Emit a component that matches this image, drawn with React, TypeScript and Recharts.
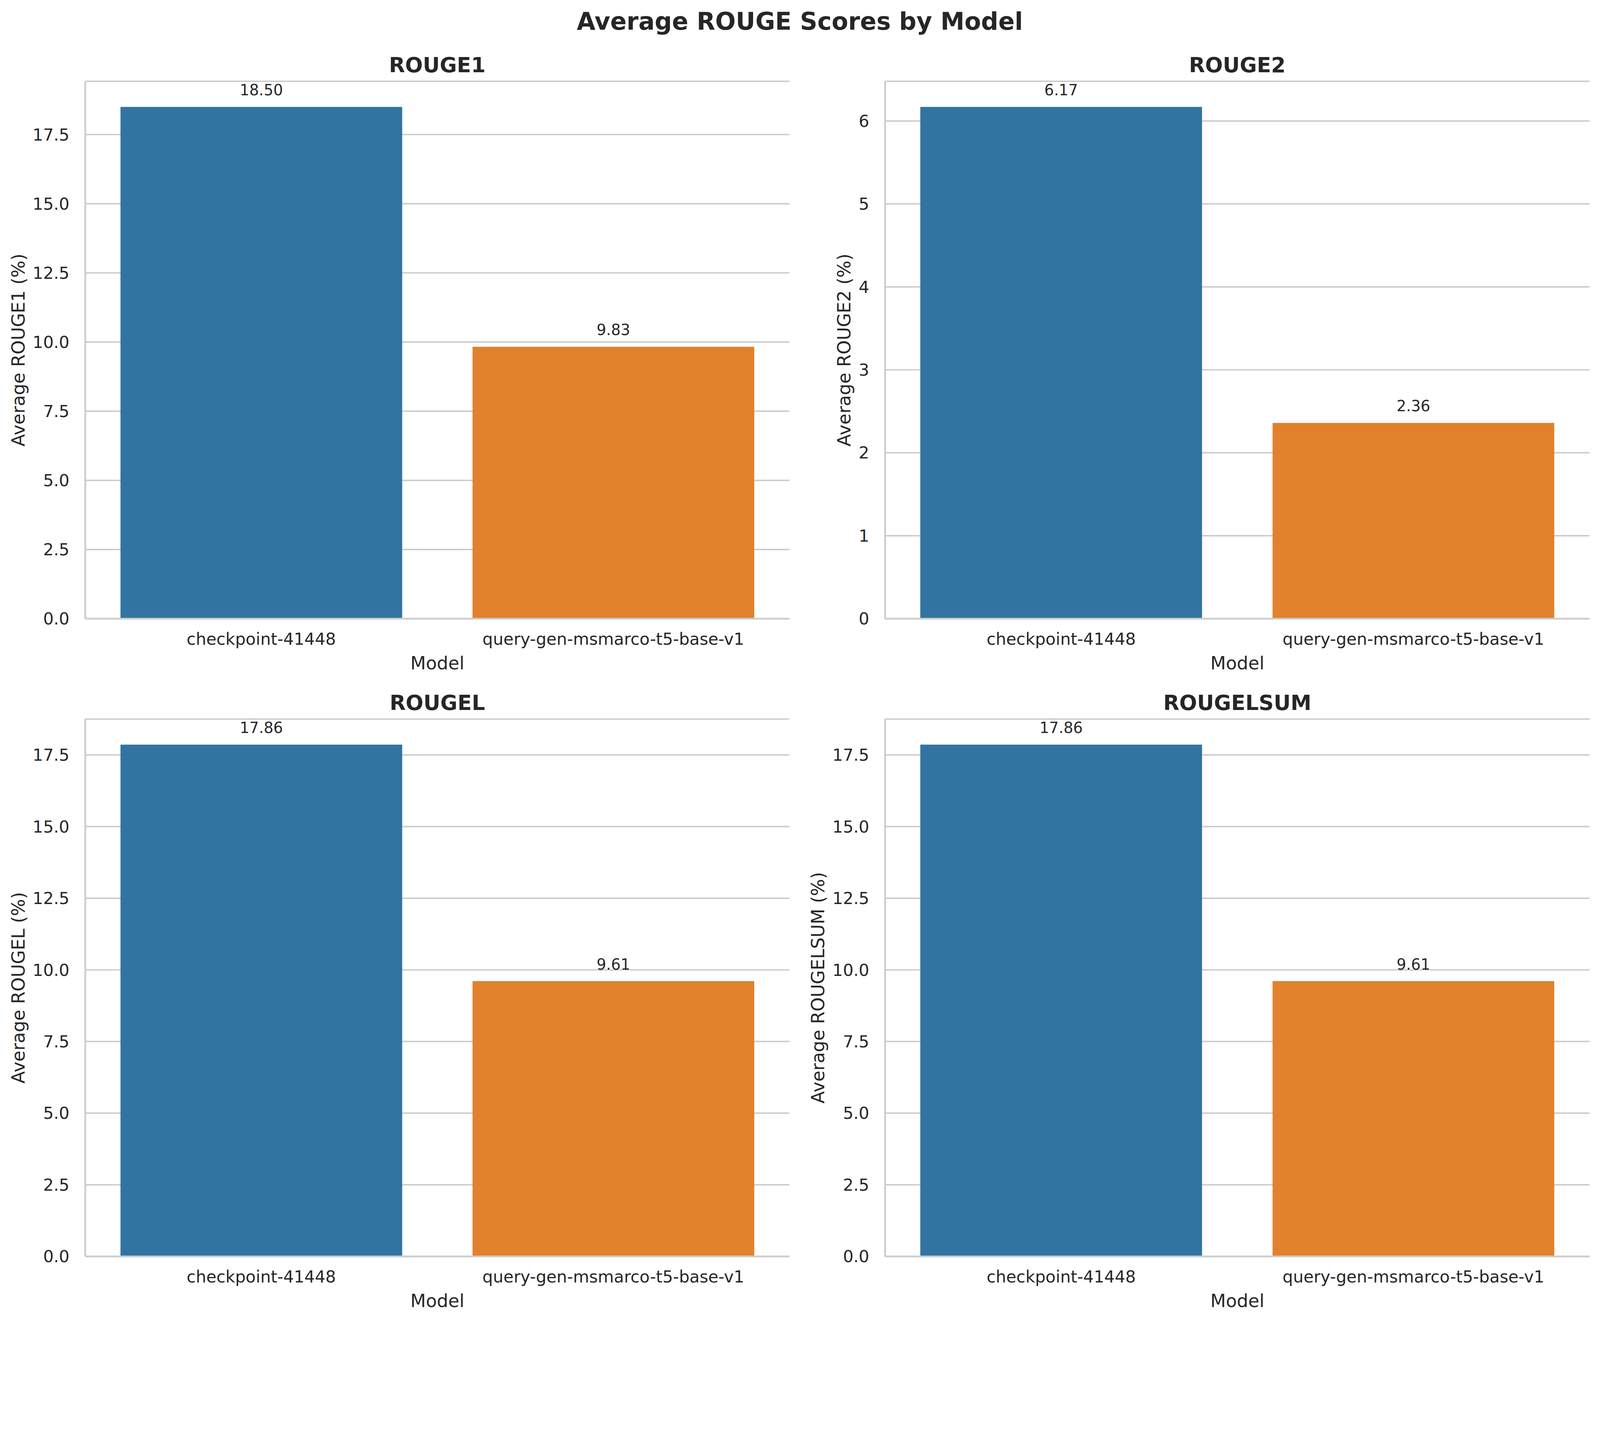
import React from "react";
import { Bar, BarChart, CartesianGrid, Cell, LabelList, XAxis, YAxis } from "recharts";

const models = ["checkpoint-41448", "query-gen-msmarco-t5-base-v1"];
const rouge1 = [18.5, 9.83];
const rouge2 = [6.17, 2.36];
const rougeL = [17.86, 9.61];
const rougeLsum = [17.86, 9.61];
const barColors = ["#3274a1", "#e1812c"];

const ticksPct = [0, 2.5, 5, 7.5, 10, 12.5, 15, 17.5];
const ticksR2 = [0, 1, 2, 3, 4, 5, 6];

const FONT = "DejaVu Sans";
const INK = "#262626";
const LINE = "#cccccc";

const PAGE_W = 4447;
const PAGE_H = 3672;
const Y_W = 230;
const X_H = 120;
const PAD = 10;

type Panel = {
	name: string;
	values: number[];
	ticks: number[];
	decimals: number;
	left: number;
	top: number;
	w: number;
	h: number;
	labelOffset: number;
};

const panels: Panel[] = [
	{ name: "ROUGE1", values: rouge1, ticks: ticksPct, decimals: 1, left: 237, top: 226, w: 1957, h: 1494, labelOffset: 169 },
	{ name: "ROUGE2", values: rouge2, ticks: ticksR2, decimals: 0, left: 2460, top: 226, w: 1958, h: 1494, labelOffset: 96 },
	{ name: "ROUGEL", values: rougeL, ticks: ticksPct, decimals: 1, left: 237, top: 1999, w: 1957, h: 1494, labelOffset: 169 },
	{ name: "ROUGELSUM", values: rougeLsum, ticks: ticksPct, decimals: 1, left: 2460, top: 1999, w: 1958, h: 1494, labelOffset: 169 },
];

function ValueLabel(props: any) {
	const { x, y, width, value } = props;
	return (
		<text
			x={x + width / 2}
			y={y - 32}
			textAnchor="middle"
			fontSize={42}
			fontFamily={FONT}
			fill={INK}
		>
			{Number(value).toFixed(2)}
		</text>
	);
}

function RougePanel({ p }: { p: Panel }) {
	const data = models.map((model, i) => ({ model, score: p.values[i] }));
	const max = Math.max(...p.values) * 1.05;
	const tickStyle = { fontSize: 46, fill: INK, fontFamily: FONT };
	return (
		<div style={{ position: "absolute", left: p.left - Y_W, top: p.top - PAD }}>
			<BarChart
				width={Y_W + p.w + PAD}
				height={PAD + p.h + X_H}
				data={data}
				margin={{ top: PAD, right: PAD, bottom: 0, left: 0 }}
				barCategoryGap="10%"
			>
				<CartesianGrid vertical={false} stroke={LINE} strokeWidth={4} />
				<XAxis
					dataKey="model"
					interval={0}
					height={X_H}
					tickLine={false}
					tickSize={40}
					tickMargin={0}
					axisLine={{ stroke: LINE, strokeWidth: 5 }}
					tick={tickStyle}
				/>
				<XAxis
					xAxisId="top"
					dataKey="model"
					orientation="top"
					height={0}
					tick={false}
					tickLine={false}
					axisLine={{ stroke: LINE, strokeWidth: 5 }}
				/>
				<YAxis
					type="number"
					width={Y_W}
					domain={[0, max]}
					ticks={p.ticks}
					tickFormatter={(v: number) => v.toFixed(p.decimals)}
					tickLine={false}
					tickSize={44}
					tickMargin={0}
					axisLine={{ stroke: LINE, strokeWidth: 5 }}
					tick={tickStyle}
				/>
				<YAxis
					yAxisId="right"
					orientation="right"
					type="number"
					domain={[0, 1]}
					width={0}
					tick={false}
					tickLine={false}
					axisLine={{ stroke: LINE, strokeWidth: 5 }}
				/>
				<Bar dataKey="score" isAnimationActive={false}>
					{data.map((d, i) => (
						<Cell key={d.model} fill={barColors[i]} />
					))}
					<LabelList dataKey="score" content={ValueLabel} />
				</Bar>
			</BarChart>
		</div>
	);
}

export default function App() {
	// fit the 4447x3672 layout into whatever viewport the page really gets
	const vw = typeof window !== "undefined" ? window.innerWidth : PAGE_W;
	const vh = typeof window !== "undefined" ? window.innerHeight : PAGE_H;
	const s = Math.min(1, vw / PAGE_W, vh / PAGE_H);

	return (
		<div
			style={{
				position: "absolute",
				left: 0,
				top: 0,
				width: PAGE_W * s,
				height: PAGE_H * s,
				overflow: "hidden",
				background: "#ffffff",
			}}
		>
			<div
				style={{
					position: "absolute",
					left: 0,
					top: 0,
					width: PAGE_W,
					height: PAGE_H,
					transform: `scale(${s})`,
					transformOrigin: "0 0",
				}}
			>
				{panels.map((p) => (
					<RougePanel key={p.name} p={p} />
				))}
				<svg
					width={PAGE_W}
					height={PAGE_H}
					style={{ position: "absolute", left: 0, top: 0, pointerEvents: "none" }}
					fontFamily={FONT}
					fill={INK}
				>
					<text x={2223} y={82} textAnchor="middle" fontSize={67} fontWeight="bold">
						Average ROUGE Scores by Model
					</text>
					{panels.map((p) => {
						const cx = p.left + p.w / 2;
						const cy = p.top + p.h / 2;
						const lx = p.left - p.labelOffset;
						return (
							<g key={p.name}>
								<text x={cx} y={p.top - 25} textAnchor="middle" fontSize={58} fontWeight="bold">
									{p.name}
								</text>
								<text x={cx} y={p.top + p.h + 141} textAnchor="middle" fontSize={50}>
									Model
								</text>
								<text
									x={lx}
									y={cy}
									textAnchor="middle"
									fontSize={50}
									transform={`rotate(-90, ${lx}, ${cy})`}
								>
									{`Average ${p.name} (%)`}
								</text>
							</g>
						);
					})}
				</svg>
			</div>
		</div>
	);
}
